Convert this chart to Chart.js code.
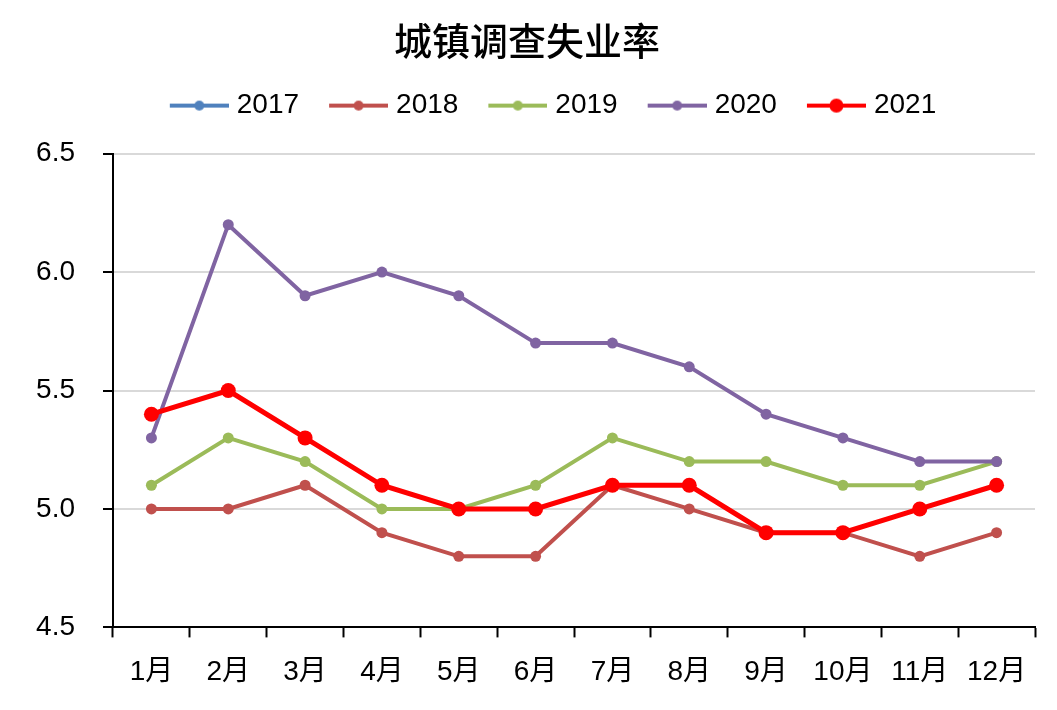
<!DOCTYPE html>
<html>
<head>
<meta charset="utf-8">
<script src="https://cdn.jsdelivr.net/npm/chart.js@4.4.1/dist/chart.umd.min.js"></script>
<style>
html,body{margin:0;padding:0;background:#ffffff;}
</style>
</head>
<body>
<canvas id="c" width="1057" height="710"></canvas>
<script>
const categories = ['1月','2月','3月','4月','5月','6月','7月','8月','9月','10月','11月','12月'];
const seriesNames = ['2017','2018','2019','2020','2021'];
const values2017 = [null,null,null,null,null,null,null,null,null,null,null,null];
const values2018 = [5.0,5.0,5.1,4.9,4.8,4.8,5.1,5.0,4.9,4.9,4.8,4.9];
const values2019 = [5.1,5.3,5.2,5.0,5.0,5.1,5.3,5.2,5.2,5.1,5.1,5.2];
const values2020 = [5.3,6.2,5.9,6.0,5.9,5.7,5.7,5.6,5.4,5.3,5.2,5.2];
const values2021 = [5.4,5.5,5.3,5.1,5.0,5.0,5.1,5.1,4.9,4.9,5.0,5.1];
const yTickValues = [4.5,5.0,5.5,6.0,6.5];

const seriesValues = [values2017, values2018, values2019, values2020, values2021];
const seriesColors = ['#4F81BD','#C0504D','#9BBB59','#8064A2','#FF0000'];
const lineWidths = [4,4,4,4,5];
const pointRadii = [5.5,5.5,5.5,5.5,7.5];
const legendDotRadii = [5,5,5,5,7];

const FONT = "'Liberation Sans', 'Noto Sans CJK SC', sans-serif";

function legendImage(color, r, lw) {
  const c = document.createElement('canvas');
  c.width = 85; c.height = 16;
  const g = c.getContext('2d');
  g.strokeStyle = color; g.lineWidth = lw;
  g.beginPath(); g.moveTo(26, 8); g.lineTo(85, 8); g.stroke();
  g.fillStyle = color;
  g.beginPath(); g.arc(55.5, 8, r, 0, Math.PI * 2); g.fill();
  return c;
}
const legendImages = seriesColors.map((col, i) => legendImage(col, legendDotRadii[i], 4));

const datasets = seriesNames.map((name, i) => ({
  label: name,
  data: seriesValues[i],
  borderColor: seriesColors[i],
  backgroundColor: seriesColors[i],
  pointBackgroundColor: seriesColors[i],
  pointBorderColor: seriesColors[i],
  pointBorderWidth: 0,
  borderWidth: lineWidths[i],
  pointRadius: pointRadii[i],
  pointHoverRadius: pointRadii[i],
  tension: 0,
  spanGaps: false,
  order: seriesNames.length - i
}));

const legendSpacing = {
  id: 'legendSpacing',
  beforeInit(chart) {
    const l = chart.legend;
    const f = l.fit;
    l.fit = function () { f.call(this); this.height += 24; };
  }
};
const legendShift = {
  id: 'legendShift',
  afterLayout(chart) { chart.legend.left += 16; chart.legend.right += 16; }
};

new Chart(document.getElementById('c'), {
  type: 'line',
  data: { labels: categories, datasets: datasets },
  plugins: [legendSpacing, legendShift],
  options: {
    responsive: false,
    devicePixelRatio: 1,
    animation: false,
    layout: { padding: { left: 19, right: 22, top: 0, bottom: 3 } },
    plugins: {
      tooltip: { enabled: false },
      title: {
        display: true,
        text: '城镇调查失业率',
        color: '#000000',
        font: { family: "'Noto Sans CJK SC', sans-serif", size: 38, weight: '500', lineHeight: 1.2 },
        padding: { top: 18, bottom: 18 }
      },
      legend: {
        display: true,
        position: 'top',
        labels: {
          color: '#000000',
          font: { family: FONT, size: 28 },
          usePointStyle: true,
          pointStyleWidth: 73,
          padding: 10,
          generateLabels(chart) {
            const items = Chart.defaults.plugins.legend.labels.generateLabels(chart);
            items.forEach(it => { it.pointStyle = legendImages[it.datasetIndex]; });
            return items;
          },
          sort: (a, b) => a.datasetIndex - b.datasetIndex
        }
      }
    },
    scales: {
      x: {
        offset: true,
        grid: { display: true, drawOnChartArea: false, drawTicks: true, tickLength: 10, tickColor: '#000000', tickWidth: 2, offset: true },
        border: { display: true, color: '#000000', width: 2 },
        ticks: { color: '#000000', font: { family: FONT, size: 28 }, padding: 18, maxRotation: 0, autoSkip: false }
      },
      y: {
        min: 4.5,
        max: 6.5,
        afterBuildTicks(scale) { scale.ticks = yTickValues.map(v => ({ value: v })); },
        afterFit(scale) { scale.width = 94; },
        grid: { color: '#D9D9D9', lineWidth: 2, drawTicks: true, tickLength: 10, tickColor: '#000000', tickWidth: 2 },
        border: { display: true, color: '#000000', width: 2 },
        ticks: { color: '#000000', font: { family: FONT, size: 28 }, padding: 28, callback: v => Number(v).toFixed(1) }
      }
    }
  }
});
</script>
</body>
</html>
